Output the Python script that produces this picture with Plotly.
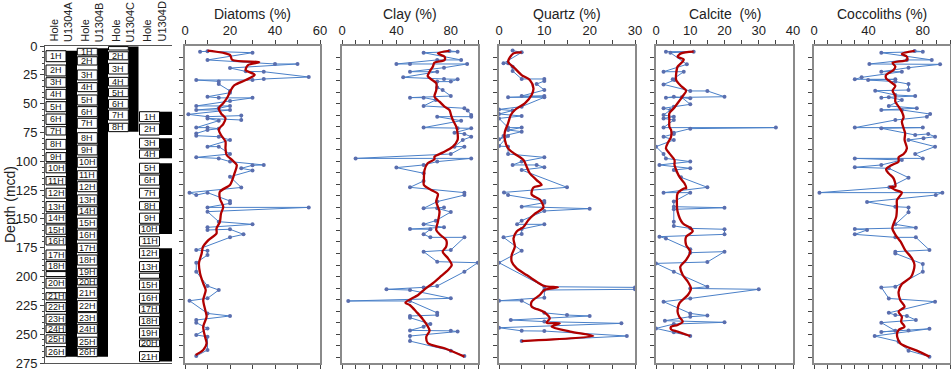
import plotly.graph_objects as go

W, H = 951, 371
# ---------------- data ----------------
# core intervals (label, top mcd, bottom mcd)
holeA = [("1H",4.1,13.6),("2H",16.5,26),("3H",27.5,35.8),("4H",37.6,46.2),("5H",48.3,57),("6H",59,68),
         ("7H",70,77.2),("8H",81,89.6),("9H",92.5,100.3),("10H",101.5,110),("11H",113.3,120.5),("12H",123.4,132),
         ("13H",135,143.7),("14H",145,153.8),("15H",155.2,163.3),("16H",165.4,172.6),("17H",177,185.6),
         ("18H",187,194.9),("19H",195.7,200),("20H",201.5,210),("21H",214,220.3),("22H",222.6,230.4),
         ("23H",232.7,241),("24H",242,248.6),("25H",250.6,257.8),("26H",260.8,269.5)]
holeB = [("1H",2,7.8),("2H",9.3,16.5),("3H",20.8,29.5),("4H",31.8,39.6),("5H",42.5,51.2),("6H",52.6,61.3),
         ("7H",62.7,71.4),("8H",75.2,84.4),("9H",85.9,94.5),("10H",96.5,105.2),("11H",108.2,116.2),
         ("12H",117.7,126.4),("13H",129.2,137.9),("14H",139.4,146.6),("15H",149.4,158.1),("16H",159.6,168.3),
         ("17H",171.1,179.2),("18H",181.3,190),("19H",192.8,200),("20H",201.5,207.3),("21H",209.3,218.8),
         ("22H",220.9,230.4),("23H",231.3,240),("24H",241.4,249.2),("25H",252.6,260.8),("26H",262.2,269.5)]
holeC = [("1H",0.5,3.5),("2H",5,12),("3H",15,24.3),("4H",27.2,34.7),("5H",36.7,44),("6H",46.3,54),
         ("7H",55.5,64.2),("8H",67,74.3)]
holeD = [("1H",57,65.6),("2H",67.6,77.2),("3H",80,88.7),("4H",90.2,97.4),("5H",101.7,110.4),("6H",111.9,120.6),
         ("7H",123.4,132),("8H",135,142.2),("9H",145,153.8),("10H",155.2,163),("11H",165.4,173.5),
         ("12H",175.5,184.1),("13H",187,195.7),("14H",197.1,201.5),("15H",203,211.6),("16H",214.5,223.2),
         ("17H",224.6,231.8),("18H",234.8,242.6),("19H",244.8,253.5),("20H",255,260.8),("21H",265.1,273.8)]
# recovered (black) intervals per hole
blackA = [(4.1,269.5)]
blackB = [(2,269.5)]
blackC = [(0.5,74.3)]
blackD = [(57,77.2),(80,97.4),(101.7,163),(175.5,273.8)]
holes = ["U1304A","U1304B","U1304C","U1304D"]

dia_v = [6.7,10,30,10,40,50,20,27,35,55,35,30,5,15,15,20,20,10,15,30,20,5,20,15,5,20,1.5,10,25,25,10,15,5,10,15,10,5,5,15,20,10,15,20,5,15,20,35,30,25,30,20,25,2,5,10,20,20,10,55,10,15,30,10,10,20,26,20,5,10,10,5,5,10,15,10,2,10,20,5,5,10,5,10,10,5]
dia_d = [4.9,4.6,5.8,12.1,15.6,15.6,19.1,22,22.3,26.9,28.6,29.5,29.5,30.7,33,39,40.5,44,45,45,47.7,52,52,54,55.5,55.5,59.3,61.3,60.4,64.2,62.8,64.8,70.8,70.8,71.7,72.9,75.8,77.8,78.7,81.5,87.3,87.3,93.7,96.6,97.5,100.3,103.2,103.5,106.1,107.9,113.4,122.7,127.2,129.3,127.2,134.5,136.5,140,140,143.7,152.4,154.7,157.3,159.6,159,163.4,166,177,177.6,181.3,188,195.8,208.2,211.7,218.9,221,232,234.2,237.7,240,245,250.7,252.2,263.7,269]
dia_sv = [10,20,21,33,28,27,31,27,22,20,19,17,15,16,18,17,15,16,18,18,18.5,21,23,22,21,20,15.5,15.5,17,16,15.5,14,14,10.4,8,7.4,6.2,6.7,8.1,9.2,8.1,9,9.6,8.1,8.9,9.6,8.1,4.7]
dia_sd = [4,7.8,12,14,16.5,21,25,29.5,34,39.6,44,49.7,54,58.4,62.8,67.7,72.3,77.2,83,88.8,94.6,99,103.2,110.5,116.3,120.5,126.5,132.4,139.5,145.3,152.5,158.3,162.6,168.4,174.2,180,188.6,197.3,206,211.7,220.4,229,234.9,243.5,252.2,258,263.8,268]

clay_v = [79,85,60,87.6,70,40,50,92,75,50,70,45,75,85,80,70,70,74,80,50,60,69,60,90,92.4,95,95,70,87.6,60,85,95,82.7,90,95,88.8,82.7,90,80,10,95,70,60,40,60,60,50,90,90,70,60,75,70,80,69,60,75,50,65,60,65,90,80,60,70,99.8,90,70,60,32.7,50,80,4.6,50,70,70,50,50,65,60,50,80,85,50,50,80,90]
clay_d = [4.3,4.9,5.8,12.1,12.1,15.6,15.6,15.6,18.8,22.3,22.3,27.2,28.6,28.9,30.9,30.9,35.9,38.2,43.4,44.8,44.8,46.8,52,54,56,59.9,61.3,61.3,64.8,70.8,71.4,71.4,75.2,76.3,78.7,81.5,87.3,87.3,93.7,97.5,97.5,100.3,103.2,105.5,110.4,117.1,122.6,127.2,129.3,135,140.8,140,140.8,144,151.5,154.7,157.3,158.8,159,163.4,166,166,177,178.4,187.1,188,195.8,208.2,209.4,211.1,211.7,218.9,221.2,221.2,231.5,233.4,234.2,235.7,241.2,243.5,246.7,247.1,247.7,251.6,256,264.3,269]
clay_sv = [79,70.5,75.4,75.4,68,66.8,64.4,63,65.6,69.3,69.3,68,71.7,75.4,79,80.2,81.5,84,85,85,81.5,74,68,68,63,60.7,60.2,60.2,65.6,70.5,69.3,71.7,70.5,69.3,72.4,76.6,76.6,74,78,80.7,78,73,66.8,60.7,56,46.6,49.8,54.6,59.5,64.4,62,63.2,75.4,90]
clay_sd = [4.3,6.4,9.3,12.1,14.5,17.9,22.3,26,28.9,32.4,38.2,44,48.3,52.6,55.5,59.9,64.2,70,75.8,81.5,87.3,92.5,96,98.3,101.8,107.6,116.3,120.6,125,128.3,135,143.7,152.4,159.6,164,168.3,174.1,178.4,184.2,190,194.3,199.5,205.8,211.1,216,222.7,224.7,230.5,237.1,246.9,252.1,257.9,262.2,269.5]

qtz_v = [3,5,1,2,3,3,5,10,10,8.3,10,5,10,2,10,5,0,3,0,5,0,2,5,2,5,1,0,2,0,2,2,10,5,3,8.3,10,5,15,1.1,2,10,10,5,20,10,5,4,10,5,5,1,5,0,10,30,30,10,10,0,5,10,15,20,2.6,10,27,0,5,10,28.2,5]
qtz_d = [4,5.5,15,15,17.9,21.7,28.6,28.6,30.4,33,38.2,43.4,43.4,44.5,44.5,52.6,55,56,59,60.7,62.8,70.8,70.8,72.9,74.3,78,81,78,86.8,87.3,93.7,96.6,100.3,103.2,103.2,105.2,107.6,122.6,127,129.3,134.5,135.9,139.4,141.1,143.1,151.5,154.7,154.7,158.8,163.1,166,177.6,188,208.8,209.4,211.1,211.7,218.3,221,221,231.5,233.4,234.2,237.7,239.1,240.6,244.4,247.1,247.3,251.6,256]
qtz_sv = [5,3.2,2,3.5,5,6.8,7.6,7.2,5.7,3.5,2.6,2,1.3,1.3,2,3.5,5.4,6.1,6.8,8.3,9.4,7.6,7.2,9,9.8,8,6.5,5.4,3.9,3.2,3.5,2.8,2.8,3.9,6.1,8.3,10,13,10,9,7.2,7.2,9.8,11.2,10.5,13.4,11.6,15.7,20.8,5]
qtz_sd = [5.5,6.4,13.6,19.4,25.2,29.5,36.7,42.5,49.7,55.5,59.9,67.1,74.3,81.5,88.8,93.7,98.9,104.7,110.5,116.3,120.6,122.7,128.8,133.2,140,145.3,151,157,161,167,174.1,181.3,187,192.9,198.7,204.5,208.2,209.4,211.7,216,221.8,226,230.5,236.2,240,240.6,243.5,247.8,251.6,256]

cal_v = [2.9,11,4.2,9,2.2,8.1,4.9,5.4,2.2,10,15,20,2.9,5.2,10,7.5,10,5.2,2.2,4.2,2.2,5.2,2.2,5.2,2.2,35,10,5.2,5.2,2.2,5.2,0,2.2,2.9,10,1,10,5.2,7.3,15,2.2,10,5.2,5.2,20,5.2,5.2,5.2,10,20,20,1,2.9,10,10,20,15,0,5.2,15,10,30,10,2.2,10,15,10,2.6,20,5.2,0,5.2,10]
cal_d = [4.9,4.9,5.8,15.9,22.3,22.3,28.9,29.5,33.3,39,39,44,44.8,44,45.4,44.5,50.6,52.6,54,55.5,59.9,61.3,62.8,64.2,70.8,70.8,71.7,75.2,76.3,78.7,81.5,87.3,93.7,97.5,100.3,103.2,106.1,107.6,113.9,122.6,127.2,127.2,135,139.4,140.3,141.7,152.4,156.1,158.2,159,163.4,165.4,166.9,176.4,179.3,178.4,187.4,188.6,195.8,208.8,210.3,211.1,219,221.8,232,233.9,234.8,238.3,239.7,241.2,245,248.4,251.6]
cal_sv = [11,7.3,6.3,8.1,7.8,6.3,5.9,5.9,7.3,8.8,7.8,6.3,5.2,3.9,3.9,3.9,4.4,4.4,3.4,2.9,3.9,5.4,5.4,5.9,6.8,8.3,8.8,8.3,6.3,6.1,6.3,7.8,10.2,10.7,8.8,8.8,10,8.8,7.1,7.8,9.3,10.2,9.3,6.8,6.3,6.8,7.8,6.3,4.4,4.4,6.3,10]
cal_sd = [4.9,6.4,9.3,11.6,13.6,17.9,23.7,29.5,34.7,38.8,43.4,49.7,54,58.4,64.2,70,72.9,78.7,84.4,88.8,93.1,98.9,103.2,107.6,113.4,119.1,123.5,123.5,127.8,135,143.7,153.8,158.2,161,165.4,172.6,178.4,185.6,191.4,198.7,204.5,210.3,216,223.3,230.5,234.9,239.1,242,243.5,245.8,247.8,251.6]

coc_v = [74,80,49.5,86.6,68.3,40.7,92.7,69.5,49.5,64.6,35,30,59.8,39.8,59.8,69.5,69.5,45,59.8,74.4,49.5,55,64.6,55,75.6,49.5,64.6,85.4,83,59.8,30,80,49.5,74.4,84,89,80.5,69.5,89,74.4,80,30,64.6,49.5,30,55,69.5,55.4,4,94.4,89.5,39,59.8,69.5,69.5,59.8,74.9,30,39,30,59.8,74.9,84.9,59.8,59.8,80,80,59.8,49.5,55,89,55,59.8,68.3,74.9,49.5,59.8,49.5,69.5,84.9,44.6,62.2,69.5,84.9]
coc_d = [4.3,4.9,5.8,12.1,12.1,15.6,15.9,18.8,22.3,22.3,27.2,28.9,28.9,29.5,30.9,33,38.2,38.8,42.5,43.4,44.8,44.5,46.8,52,54,55.5,55.5,59,61.3,64.2,70.8,70.8,71.4,77.2,76.3,78.7,80.1,81.5,87.3,93.7,97.5,97.5,98.9,103.2,105.2,106.1,114.2,122.6,127.2,127.2,129.3,135.3,139.4,140,144.3,154.7,157.6,158.8,159.6,163.4,166,166,177,178.4,179.9,189.1,195.8,208.8,209.4,219,221.8,231.5,233.4,234.2,237.7,240,247.1,248,246.7,245.3,251.6,256.5,264.3,269.5]
coc_sv = [74,64.6,68.3,68.3,57.8,59.8,58.5,53,53,56,59.8,57.8,59.8,59.8,62.2,64.6,65.9,64.6,65.9,67,66.6,68.3,65.9,62.2,62.2,57.3,53,54.9,58.5,59.8,56,59.8,64.6,61,61,60.5,57.6,60,63.7,67,72,73.9,71.5,64.6,62.2,63.4,66.6,62.2,64.6,64.1,66.6,62.2,61,63.4,75.6,84.9]
coc_sd = [4.3,6.9,9.3,12.1,14.5,17.9,20.8,25.2,28,30.9,34.7,38.8,43.4,48.3,52.6,57,61.9,65.6,71.4,75.8,81.5,88.8,93.7,96.6,100.3,103.2,107,110.5,114.8,122,122,124.9,127.2,133.6,139.4,148,158.2,164,169.8,177,184.2,190,200.1,206.5,213.2,220.4,226.2,230.5,234.9,239.2,243.5,246.4,250.7,258,264.3,269.5]

panels = [
    ("Diatoms (%)", dia_v, dia_d, dia_sv, dia_sd, [0, 60], [0, 20, 40, 60], 10),
    ("Clay (%)", clay_v, clay_d, clay_sv, clay_sd, [0, 100], [0, 40, 80], 10),
    ("Quartz (%)", qtz_v, qtz_d, qtz_sv, qtz_sd, [0, 30], [0, 10, 20, 30], 5),
    ("Calcite  (%)", cal_v, cal_d, cal_sv, cal_sd, [0, 40], [0, 10, 20, 30, 40], 5),
    ("Coccoliths (%)", coc_v, coc_d, coc_sv, coc_sd, [0, 100], [0, 40, 80], 10),
]

# ---------------- layout geometry (pixels) ----------------
FONT = "Liberation Sans, Arial, sans-serif"
ytop, ybot = 46, 363
ydom = [1 - ybot / H, 1 - ytop / H]
core_px = (45, 172)
panel_px = [(185, 320), (342, 478), (499, 635), (656, 793), (814, 950)]
BLUE = "#4a80c8"
MK = "#5a6eae"
RED = "#b00000"
FRAME = "#8a8a8a"

fig = go.Figure()
layout = dict(width=W, height=H, margin=dict(l=0, r=0, t=0, b=0, autoexpand=False),
              paper_bgcolor="white", plot_bgcolor="white", showlegend=False,
              font=dict(family=FONT, size=12, color="#222"))

# core panel axes
layout["xaxis"] = dict(domain=[core_px[0] / W, core_px[1] / W], range=[0, core_px[1] - core_px[0]],
                       showgrid=False, zeroline=False, showticklabels=False, ticks="", automargin=False,
                       showline=True, linecolor="#555", linewidth=1, side="top", mirror=True)
layout["yaxis"] = dict(domain=ydom, range=[275, 0], showgrid=False, zeroline=False, automargin=False,
                       tickvals=list(range(0, 276, 25)), ticks="outside", ticklen=4, tickcolor="#444",
                       minor=dict(dtick=5, tick0=0, ticks="outside", ticklen=2, tickcolor="#444"),
                       showline=True, linecolor="#555", linewidth=1,
                       tickfont=dict(size=13, family=FONT, color="#222"))
# invisible trace to activate core axes
fig.add_trace(go.Scatter(x=[0], y=[0], mode="markers", marker=dict(opacity=0), xaxis="x", yaxis="y",
                         hoverinfo="skip"))

shapes = []
annotations = []
# hole columns: (box x0, box x1, black x1) in core-axis pixel units
hole_cols = [(1, 21, 32), (32.3, 52.3, 63), (63.5, 83.3, 93.5), (94.5, 114.5, 127)]
for (cores, blacks, (bx0, bx1, kx1), hname) in zip([holeA, holeB, holeC, holeD],
                                                   [blackA, blackB, blackC, blackD], hole_cols, holes):
    for (t, b) in blacks:
        shapes.append(dict(type="rect", xref="x", yref="y", x0=bx1, x1=kx1, y0=t, y1=b,
                           fillcolor="black", line=dict(width=0)))
    for (lab, t, b) in cores:
        shapes.append(dict(type="rect", xref="x", yref="y", x0=bx0, x1=bx1, y0=t, y1=b,
                           fillcolor="white", line=dict(color="black", width=1)))
        if b - t >= 5.5:
            annotations.append(dict(x=(bx0 + bx1) / 2, y=(t + b) / 2, xref="x", yref="y", text=lab,
                                    showarrow=False, xanchor="center", yanchor="middle",
                                    font=dict(size=9, family=FONT, color="#111")))
    cx = core_px[0] + (bx0 + bx1) / 2
    annotations.append(dict(x=(cx - 2) / W, y=1 - 44 / H, xref="paper", yref="paper", text="Hole",
                            textangle=-90, showarrow=False, xanchor="center", yanchor="bottom",
                            font=dict(size=11, family=FONT, color="#222")))
    annotations.append(dict(x=(cx + 12) / W, y=1 - 44 / H, xref="paper", yref="paper", text=hname,
                            textangle=-90, showarrow=False, xanchor="center", yanchor="bottom",
                            font=dict(size=11, family=FONT, color="#222")))

annotations.append(dict(x=10 / W, y=1 - 205 / H, xref="paper", yref="paper", text="Depth (mcd)",
                        textangle=-90, showarrow=False, xanchor="center", yanchor="middle",
                        font=dict(size=14, family=FONT, color="#222")))

for i, (title, v, d, sv, sd, rng, tv, minor) in enumerate(panels):
    k = i + 2
    xa, ya = f"x{k}", f"y{k}"
    px0, px1 = panel_px[i]
    layout[f"xaxis{k}"] = dict(domain=[px0 / W, px1 / W], range=rng, side="top", anchor=ya, automargin=False,
                               tickvals=tv, ticks="outside", ticklen=4, tickcolor="#444",
                               minor=dict(dtick=minor, tick0=0, ticks="outside", ticklen=4, tickcolor="#444"),
                               showgrid=False, zeroline=False, showline=True, linecolor=FRAME, linewidth=1.5,
                               mirror="ticks", tickfont=dict(size=13, family=FONT, color="#222"))
    layout[f"yaxis{k}"] = dict(domain=ydom, range=[275, 0], anchor=xa, showticklabels=False, automargin=False,
                               tickvals=list(range(10, 271, 10)), ticks="outside", ticklen=4, tickcolor="#444",
                               showgrid=False, zeroline=False, showline=True, linecolor=FRAME, linewidth=1.5,
                               mirror=True)
    fig.add_trace(go.Scatter(x=v, y=d, mode="lines+markers", xaxis=xa, yaxis=ya,
                             line=dict(color=BLUE, width=1), marker=dict(size=4, color=MK),
                             cliponaxis=True))
    fig.add_trace(go.Scatter(x=sv, y=sd, mode="lines", xaxis=xa, yaxis=ya,
                             line=dict(color=RED, width=2.3, shape="spline", smoothing=0.8)))
    annotations.append(dict(x=(px0 + px1) / 2 / W, y=1 - 14 / H, xref="paper", yref="paper", text=title,
                            showarrow=False, xanchor="center", yanchor="middle",
                            font=dict(size=14, family=FONT, color="#222")))

layout["shapes"] = shapes
layout["annotations"] = annotations
fig.update_layout(**layout)
fig.write_html("out.html", config={"displayModeBar": False},
               post_script="document.body.style.margin='0';document.body.style.overflow='hidden';")
